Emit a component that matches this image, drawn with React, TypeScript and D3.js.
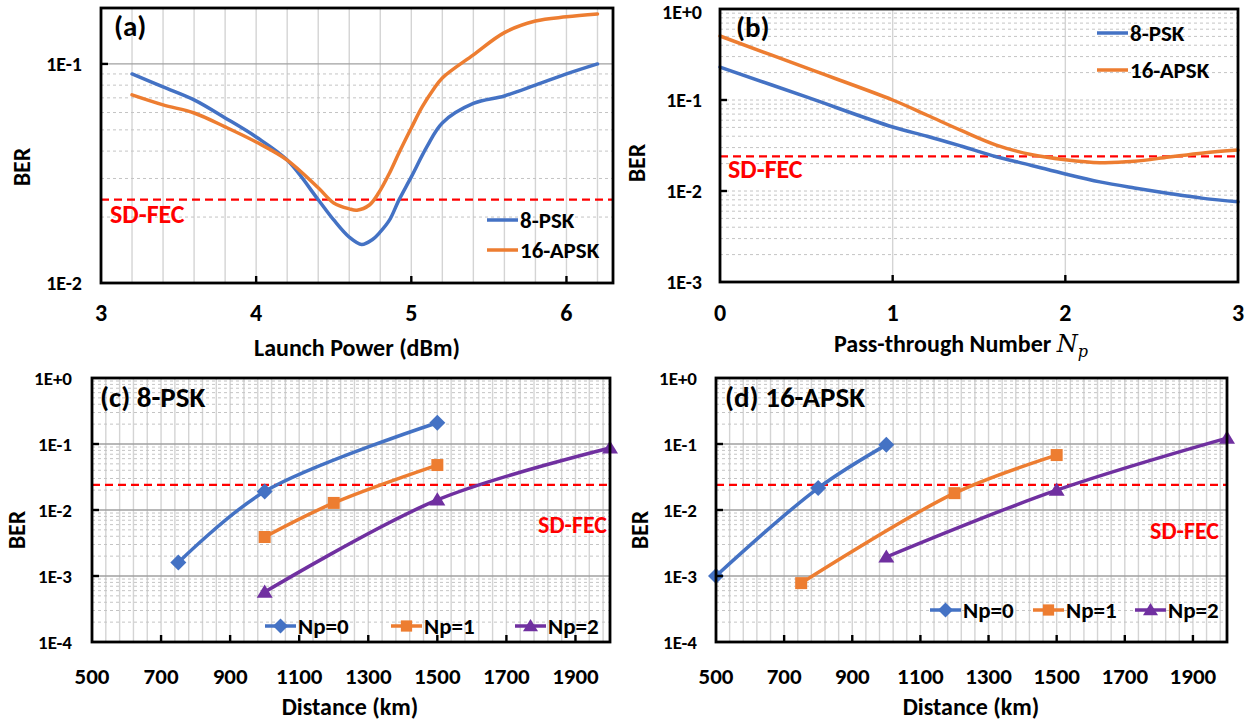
import React from 'react';
import * as d3 from 'd3';

const FONT = "Carlito, Calibri, Lato, 'Open Sans', sans-serif";
const BLUE = '#4472C4';
const ORANGE = '#ED7D31';
const PURPLE = '#7030A0';
const RED = '#FF0000';

// ---------- Panel (a): BER vs launch power ----------
const powerA8 = [3.2, 3.4, 3.6, 3.8, 4.0, 4.2, 4.4, 4.5, 4.6, 4.68, 4.75, 4.8, 4.86, 4.92, 5.0, 5.1, 5.2, 5.4, 5.6, 5.8, 6.0, 6.2];
const berA8 = [0.090, 0.0785, 0.0685, 0.0567, 0.0464, 0.0364, 0.024, 0.0194, 0.0162, 0.0150, 0.0158, 0.0171, 0.0194, 0.0239, 0.0305, 0.0418, 0.0538, 0.066, 0.0714, 0.080, 0.090, 0.100];
const powerA16 = [3.2, 3.4, 3.6, 3.8, 4.0, 4.2, 4.4, 4.5, 4.6, 4.65, 4.73, 4.79, 4.86, 4.92, 5.0, 5.07, 5.14, 5.2, 5.4, 5.6, 5.8, 6.0, 6.2];
const berA16 = [0.0722, 0.065, 0.0597, 0.0516, 0.044, 0.0364, 0.0272, 0.0232, 0.0218, 0.0215, 0.0227, 0.0258, 0.0318, 0.0392, 0.051, 0.0636, 0.076, 0.0863, 0.110, 0.139, 0.157, 0.164, 0.169];
const xLabelsA = [3, 4, 5, 6];

// ---------- Panel (b): BER vs pass-through number ----------
const npB = [0, 0.5, 1.0, 1.2, 1.4, 1.6, 1.8, 2.0, 2.2, 2.4, 2.6, 2.8, 3.0];
const berB8 = [0.23, 0.108, 0.0505, 0.040, 0.031, 0.0238, 0.0192, 0.0154, 0.0126, 0.0108, 0.0094, 0.0083, 0.0076];
const berB16 = [0.505, 0.225, 0.1, 0.068, 0.046, 0.032, 0.0252, 0.0221, 0.0205, 0.0212, 0.0236, 0.0262, 0.0282];
const xLabelsB = [0, 1, 2, 3];

// ---------- Panels (c), (d): BER vs distance ----------
const distC0 = [750, 1000, 1500];
const berC0 = [0.0016, 0.019, 0.21];
const distC1 = [1000, 1200, 1500];
const berC1 = [0.0039, 0.0128, 0.048];
const distC2 = [1000, 1500, 2000];
const berC2 = [0.00057, 0.0142, 0.087];

const distD0 = [500, 800, 1000];
const berD0 = [0.001, 0.0215, 0.097];
const distD1 = [750, 1200, 1500];
const berD1 = [0.00078, 0.018, 0.068];
const distD2 = [1000, 1500, 2000];
const berD2 = [0.00194, 0.020, 0.123];
const xLabelsCD = [500, 700, 900, 1100, 1300, 1500, 1700, 1900];

const SD_FEC = 0.024;

type Marker = 'diamond' | 'square' | 'triangle' | null;
interface Series { name: string; x: number[]; y: number[]; color: string; marker: Marker }
interface PanelCfg {
  left: number; right: number; top: number; bottom: number;
  xDomain: [number, number]; yDomain: [number, number];
  vGrid: number[]; xTicks: number[]; xLabels: number[]; yDecades: number[];
  majorSolid: boolean; series: Series[];
  legend: { x: number; y: number }[]; legendLine: number;
  fec: { x: number; y: number; anchor: string; size: number };
  title: { text: string; x: number; y: number };
  xTitle: React.ReactNode; xTitleX: number; xTitleY: number;
  yTitleX: number; yTitleY: number;
  yLabelX: number; xLabelY: number; yLabelSize: number; xLabelSize: number;
  legendSize: number;
}

function markerPath(m: Marker, s: number): string {
  if (m === 'diamond') return `M0,${-s}L${s},0L0,${s}L${-s},0Z`;
  if (m === 'square') return `M${-s * 0.75},${-s * 0.75}H${s * 0.75}V${s * 0.75}H${-s * 0.75}Z`;
  if (m === 'triangle') return `M0,${-s * 0.95}L${s},${s * 0.7}L${-s},${s * 0.7}Z`;
  return '';
}

function fmtExp(v: number) {
  const e = Math.round(Math.log10(v));
  return `1E${e >= 0 ? '+' : ''}${e}`;
}

function Panel({ c }: { c: PanelCfg }) {
  const x = d3.scaleLinear().domain(c.xDomain).range([c.left, c.right]);
  const y = d3.scaleLog().domain(c.yDomain).range([c.bottom, c.top]);
  const lo = Math.floor(Math.log10(c.yDomain[0]));
  const hi = Math.ceil(Math.log10(c.yDomain[1]));
  const minors: number[] = [];
  for (let d = lo; d < hi; d++) for (let k = 2; k <= 9; k++) {
    const v = k * Math.pow(10, d);
    if (v < c.yDomain[1] * 0.999) minors.push(v);
  }
  const majors = c.yDecades.filter(v => v > c.yDomain[0] * 1.001 && v < c.yDomain[1] * 0.999);
  const line = d3.line<[number, number]>().x(d => x(d[0])).y(d => y(d[1])).curve(d3.curveCatmullRom.alpha(0.5));
  return (
    <g>
      {c.vGrid.map((v, i) => (
        <line key={'vg' + i} x1={x(v)} x2={x(v)} y1={c.top} y2={c.bottom} stroke="#d4d4d4" strokeWidth={1.4} />
      ))}
      {minors.map((v, i) => (
        <line key={'mn' + i} x1={c.left} x2={c.right} y1={y(v)} y2={y(v)} stroke="#c4c4c4" strokeWidth={1} strokeDasharray="3,3" />
      ))}
      {majors.map((v, i) => (
        <line key={'mj' + i} x1={c.left} x2={c.right} y1={y(v)} y2={y(v)}
          stroke={c.majorSolid ? '#a0a0a0' : '#c4c4c4'} strokeWidth={c.majorSolid ? 1.3 : 1}
          strokeDasharray={c.majorSolid ? undefined : '3,3'} />
      ))}
      <line x1={c.left} x2={c.right} y1={y(SD_FEC)} y2={y(SD_FEC)} stroke={RED} strokeWidth={2.2} strokeDasharray="8,5" />
      {c.series.map((s, i) => (
        <path key={'ln' + i} d={line(s.x.map((v, j) => [v, s.y[j]] as [number, number])) || ''}
          fill="none" stroke={s.color} strokeWidth={3.5} strokeLinejoin="round" strokeLinecap="round" />
      ))}
      {c.series.map((s, i) => s.marker ? s.x.map((v, j) => (
        <path key={'mk' + i + '-' + j} d={markerPath(s.marker, 8)} transform={`translate(${x(v)},${y(s.y[j])})`} fill={s.color} />
      )) : null)}
      <rect x={c.left} y={c.top} width={c.right - c.left} height={c.bottom - c.top} fill="none" stroke="#000" strokeWidth={2.8} />
      {c.xTicks.map((v, i) => (
        <line key={'xt' + i} x1={x(v)} x2={x(v)} y1={c.bottom} y2={c.bottom - 7} stroke="#000" strokeWidth={2.4} />
      ))}
      {majors.map((v, i) => (
        <line key={'yt' + i} x1={c.left} x2={c.left + 7} y1={y(v)} y2={y(v)} stroke="#000" strokeWidth={2.4} />
      ))}
      {c.yDecades.map((v, i) => (
        <text key={'yl' + i} x={c.yLabelX} y={Math.max(y(v), 12)} dy="0.35em" textAnchor="end" fontSize={c.yLabelSize} fontWeight="bold" fontFamily={FONT}>{fmtExp(v)}</text>
      ))}
      {c.xLabels.map((v, i) => (
        <text key={'xl' + i} x={x(v)} y={c.xLabelY} textAnchor="middle" fontSize={c.xLabelSize} fontWeight="bold" fontFamily={FONT}>{v}</text>
      ))}
      <text x={c.xTitleX} y={c.xTitleY} textAnchor="middle" fontSize={24} fontWeight="bold" fontFamily={FONT}>{c.xTitle}</text>
      <text transform={`translate(${c.yTitleX},${c.yTitleY}) rotate(-90)`} textAnchor="middle" dy="0.35em" fontSize={24} fontWeight="bold" fontFamily={FONT}>BER</text>
      <text x={c.title.x} y={c.title.y} fontSize={29} fontWeight="bold" fontFamily={FONT}>{c.title.text}</text>
      <text x={c.fec.x} y={c.fec.y} textAnchor={c.fec.anchor} fontSize={c.fec.size} fontWeight="bold" fill={RED} fontFamily={FONT}>SD-FEC</text>
      {c.series.map((s, i) => {
        const p = c.legend[i];
        return (
          <g key={'lg' + i}>
            <line x1={p.x} x2={p.x + c.legendLine} y1={p.y} y2={p.y} stroke={s.color} strokeWidth={3.5} />
            {s.marker ? <path d={markerPath(s.marker, 7.5)} transform={`translate(${p.x + c.legendLine / 2},${p.y})`} fill={s.color} /> : null}
            <text x={p.x + c.legendLine + 2} y={p.y} dy="0.35em" fontSize={c.legendSize} fontWeight="bold" fontFamily={FONT}>{s.name}</text>
          </g>
        );
      })}
    </g>
  );
}

const panelA: PanelCfg = {
  left: 101, right: 613, top: 8, bottom: 283,
  xDomain: [3, 6.3], yDomain: [0.01, 0.18],
  vGrid: d3.range(3.2, 6.25, 0.2), xTicks: [4, 5, 6], xLabels: xLabelsA, yDecades: [0.01, 0.1],
  majorSolid: true,
  series: [
    { name: '8-PSK', x: powerA8, y: berA8, color: BLUE, marker: null },
    { name: '16-APSK', x: powerA16, y: berA16, color: ORANGE, marker: null },
  ],
  legend: [{ x: 487, y: 220 }, { x: 487, y: 250 }], legendLine: 31, legendSize: 23,
  fec: { x: 110, y: 223, anchor: 'start', size: 26 },
  title: { text: '(a)', x: 114, y: 36 },
  xTitle: 'Launch Power (dBm)', xTitleX: 357, xTitleY: 356,
  yTitleX: 22, yTitleY: 167, yLabelX: 82, xLabelY: 321, yLabelSize: 20, xLabelSize: 24,
};

const panelB: PanelCfg = {
  left: 720, right: 1238, top: 9, bottom: 282,
  xDomain: [0, 3], yDomain: [0.001, 1],
  vGrid: [1, 2], xTicks: [1, 2], xLabels: xLabelsB, yDecades: [0.001, 0.01, 0.1, 1],
  majorSolid: false,
  series: [
    { name: '8-PSK', x: npB, y: berB8, color: BLUE, marker: null },
    { name: '16-APSK', x: npB, y: berB16, color: ORANGE, marker: null },
  ],
  legend: [{ x: 1097, y: 33 }, { x: 1097, y: 70 }], legendLine: 31, legendSize: 23,
  fec: { x: 728, y: 178, anchor: 'start', size: 26 },
  title: { text: '(b)', x: 736, y: 37 },
  xTitle: (
    <>
      Pass-through Number{' '}
      <tspan fontFamily="'DejaVu Serif', serif" fontStyle="italic" fontWeight="normal">N</tspan>
      <tspan fontFamily="'DejaVu Serif', serif" fontStyle="italic" fontWeight="normal" fontSize={16} dy={5}>p</tspan>
    </>
  ),
  xTitleX: 961, xTitleY: 352,
  yTitleX: 637, yTitleY: 163, yLabelX: 702, xLabelY: 321, yLabelSize: 20, xLabelSize: 24,
};

const panelC: PanelCfg = {
  left: 92, right: 610, top: 378, bottom: 642,
  xDomain: [500, 2000], yDomain: [0.0001, 1],
  vGrid: d3.range(540, 2000, 40), xTicks: [700, 900, 1100, 1300, 1500, 1700, 1900], xLabels: xLabelsCD,
  yDecades: [0.0001, 0.001, 0.01, 0.1, 1],
  majorSolid: true,
  series: [
    { name: 'Np=0', x: distC0, y: berC0, color: BLUE, marker: 'diamond' },
    { name: 'Np=1', x: distC1, y: berC1, color: ORANGE, marker: 'square' },
    { name: 'Np=2', x: distC2, y: berC2, color: PURPLE, marker: 'triangle' },
  ],
  legend: [{ x: 265, y: 626 }, { x: 391, y: 626 }, { x: 515, y: 626 }], legendLine: 31, legendSize: 23,
  fec: { x: 607, y: 533, anchor: 'end', size: 24 },
  title: { text: '(c) 8-PSK', x: 100, y: 407 },
  xTitle: 'Distance (km)', xTitleX: 350, xTitleY: 715,
  yTitleX: 17, yTitleY: 530, yLabelX: 72, xLabelY: 684, yLabelSize: 19, xLabelSize: 23,
};

const panelD: PanelCfg = {
  left: 716, right: 1227, top: 378, bottom: 642,
  xDomain: [500, 2000], yDomain: [0.0001, 1],
  vGrid: d3.range(540, 2000, 40), xTicks: [700, 900, 1100, 1300, 1500, 1700, 1900], xLabels: xLabelsCD,
  yDecades: [0.0001, 0.001, 0.01, 0.1, 1],
  majorSolid: true,
  series: [
    { name: 'Np=0', x: distD0, y: berD0, color: BLUE, marker: 'diamond' },
    { name: 'Np=1', x: distD1, y: berD1, color: ORANGE, marker: 'square' },
    { name: 'Np=2', x: distD2, y: berD2, color: PURPLE, marker: 'triangle' },
  ],
  legend: [{ x: 930, y: 610 }, { x: 1033, y: 610 }, { x: 1135, y: 610 }], legendLine: 31, legendSize: 23,
  fec: { x: 1219, y: 539, anchor: 'end', size: 24 },
  title: { text: '(d) 16-APSK', x: 725, y: 407 },
  xTitle: 'Distance (km)', xTitleX: 971, xTitleY: 715,
  yTitleX: 640, yTitleY: 530, yLabelX: 697, xLabelY: 684, yLabelSize: 19, xLabelSize: 23,
};

export default function App() {
  return (
    <svg width={1258} height={723} style={{ position: 'absolute', left: 0, top: 0, background: '#fff' }}>
      <rect x={0} y={0} width={1258} height={723} fill="#fff" />
      <Panel c={panelA} />
      <Panel c={panelB} />
      <Panel c={panelC} />
      <Panel c={panelD} />
    </svg>
  );
}
